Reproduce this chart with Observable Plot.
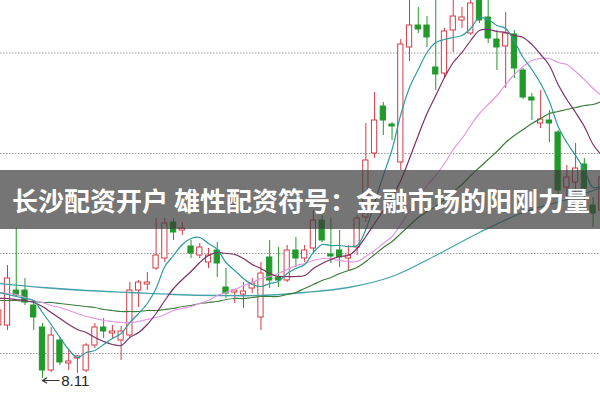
<!DOCTYPE html>
<html>
<head>
<meta charset="utf-8">
<script src="https://cdn.jsdelivr.net/npm/d3@7"></script>
<script src="https://cdn.jsdelivr.net/npm/@observablehq/plot@0.6"></script>
<style>
  html, body { margin: 0; padding: 0; background: #fff; }
  #wrap { position: relative; width: 600px; height: 400px; overflow: hidden; }
  #banner {
    position: absolute; left: 0; top: 170px; width: 600px; height: 59px;
    background: rgba(58, 58, 58, 0.70);
    color: #fff; font-family: "Noto Sans CJK SC", "Noto Sans", sans-serif;
    font-weight: 700; font-size: 26px; line-height: 59px;
    padding-left: 12px; box-sizing: border-box; white-space: nowrap;
  }
</style>
</head>
<body>
<div id="wrap"><div id="chart"></div><div id="banner">长沙配资开户 雄性配资符号：金融市场的阳刚力量</div></div>
<script>
// ---- data (prices) ----
const open = [9.17, 9.17, 9.87, 9.87, 9.57, 9.13, 8.27, 8.87, 8.41, 8.51,
  8.27, 8.77, 9.13, 9.01, 8.87, 8.97, 9.87, 9.99, 10.31, 10.51,
  11.23, 11.07, 10.75, 10.57, 10.43, 10.67, 9.93, 9.83, 9.79, 9.91,
  9.33, 10.53, 10.13, 10.07, 10.67, 10.51, 10.71, 11.27, 10.59, 10.67,
  10.51, 10.73, 11.33, 12.61, 13.55, 13.19, 12.43, 14.73, 15.17, 15.17,
  14.33, 14.21, 15.07, 15.27, 15.01, 15.73, 15.33, 14.89, 14.75, 14.99,
  14.27, 13.73, 13.21, 13.27, 13.03, 11.93, 12.03, 12.39, 11.57, 11.47];
const high = [9.57, 10.37, 11.11, 10.11, 9.67, 9.21, 9.13, 8.93, 8.67, 8.57,
  8.81, 9.21, 9.31, 9.17, 9.15, 10.03, 10.07, 10.23, 11.31, 11.31,
  11.31, 11.23, 10.87, 10.81, 10.71, 10.83, 10.31, 9.89, 10.03, 10.11,
  10.43, 10.87, 10.73, 10.77, 10.93, 10.77, 11.47, 11.37, 11.31, 11.07,
  10.77, 11.37, 13.21, 13.83, 13.63, 13.23, 14.89, 15.87, 15.53, 15.35,
  15.87, 15.11, 15.87, 15.53, 15.77, 15.97, 15.87, 15.07, 15.43, 15.07,
  14.31, 13.81, 13.87, 13.47, 13.07, 12.37, 12.81, 12.51, 11.73, 12.17];
const low = [9.11, 9.07, 9.73, 9.57, 9.07, 8.11, 8.23, 8.37, 8.27, 8.21,
  8.23, 8.71, 8.91, 8.91, 8.47, 8.93, 9.53, 9.87, 10.27, 10.43,
  10.87, 10.97, 10.51, 10.51, 10.31, 10.13, 9.71, 9.61, 9.51, 9.81,
  9.07, 9.91, 9.93, 10.03, 10.33, 10.43, 10.63, 10.83, 10.41, 10.33,
  10.27, 10.57, 11.23, 12.51, 12.97, 12.87, 12.27, 14.45, 15.01, 14.73,
  13.87, 14.13, 14.63, 15.11, 14.97, 15.21, 14.81, 14.27, 13.91, 14.11,
  13.69, 13.27, 13.11, 12.83, 11.77, 11.73, 11.83, 11.67, 11.13, 11.17];
const close = [9.47, 10.11, 9.77, 9.63, 9.33, 8.27, 8.97, 8.43, 8.45, 8.55,
  8.77, 9.13, 9.05, 9.05, 9.05, 9.87, 10.03, 10.03, 10.57, 11.21,
  11.03, 11.11, 10.61, 10.73, 10.57, 10.41, 9.81, 9.87, 9.85, 10.01,
  10.21, 10.07, 10.07, 10.67, 10.51, 10.67, 11.27, 10.87, 10.55, 10.53,
  10.57, 11.31, 12.47, 13.27, 13.27, 13.15, 14.79, 15.17, 15.09, 14.93,
  14.19, 15.05, 15.35, 15.33, 15.61, 15.27, 14.91, 14.73, 15.01, 14.31,
  13.73, 13.67, 13.29, 13.21, 11.87, 12.13, 12.31, 11.91, 11.41, 12.13];

const ma5 = [9.83, 9.79, 9.75, 9.71, 9.67, 9.43, 9.19, 8.93, 8.69, 8.53,
  8.63, 8.67, 8.79, 8.91, 9.01, 9.23, 9.41, 9.61, 9.91, 10.35,
  10.57, 10.79, 10.91, 10.93, 10.81, 10.69, 10.43, 10.27, 10.11, 9.99,
  9.95, 10.01, 10.05, 10.21, 10.31, 10.39, 10.63, 10.79, 10.77, 10.77,
  10.75, 10.77, 11.09, 11.63, 12.17, 12.69, 13.39, 13.93, 14.29, 14.63,
  14.83, 14.89, 14.93, 14.97, 15.11, 15.33, 15.29, 15.17, 15.11, 14.85,
  14.53, 14.29, 14.01, 13.65, 13.15, 12.83, 12.57, 12.29, 11.93, 11.97];
const ma10 = [9.71, 9.71, 9.69, 9.67, 9.63, 9.55, 9.43, 9.31, 9.19, 9.09,
  9.03, 8.93, 8.85, 8.79, 8.77, 8.93, 9.03, 9.19, 9.41, 9.67,
  9.91, 10.09, 10.25, 10.43, 10.57, 10.63, 10.61, 10.59, 10.51, 10.39,
  10.31, 10.21, 10.15, 10.15, 10.15, 10.17, 10.31, 10.41, 10.49, 10.55,
  10.57, 10.71, 10.95, 11.21, 11.47, 11.73, 12.07, 12.51, 12.97, 13.41,
  13.77, 14.13, 14.43, 14.63, 14.87, 15.07, 15.09, 15.05, 15.03, 14.97,
  14.93, 14.79, 14.59, 14.37, 13.99, 13.69, 13.43, 13.15, 12.79, 12.57];
const ma20 = [9.83, 9.81, 9.79, 9.73, 9.67, 9.63, 9.57, 9.53, 9.47, 9.41,
  9.35, 9.31, 9.27, 9.25, 9.23, 9.23, 9.25, 9.29, 9.33, 9.39,
  9.47, 9.51, 9.55, 9.61, 9.67, 9.77, 9.83, 9.89, 9.97, 10.03,
  10.11, 10.15, 10.21, 10.29, 10.37, 10.41, 10.47, 10.51, 10.51, 10.47,
  10.45, 10.45, 10.55, 10.67, 10.81, 10.95, 11.19, 11.47, 11.73, 11.97,
  12.17, 12.41, 12.69, 12.91, 13.17, 13.41, 13.59, 13.77, 13.99, 14.19,
  14.35, 14.47, 14.51, 14.51, 14.43, 14.39, 14.25, 14.09, 13.91, 13.77];
const ma30 = [9.67, 9.67, 9.67, 9.65, 9.65, 9.63, 9.63, 9.61, 9.59, 9.57,
  9.55, 9.53, 9.49, 9.47, 9.45, 9.45, 9.45, 9.47, 9.47, 9.49,
  9.51, 9.55, 9.57, 9.61, 9.63, 9.65, 9.69, 9.71, 9.71, 9.73,
  9.75, 9.75, 9.75, 9.79, 9.83, 9.91, 9.99, 10.07, 10.13, 10.21,
  10.27, 10.33, 10.45, 10.59, 10.73, 10.85, 11.01, 11.17, 11.33, 11.45,
  11.55, 11.69, 11.85, 11.99, 12.17, 12.33, 12.49, 12.65, 12.83, 12.97,
  13.09, 13.21, 13.31, 13.41, 13.45, 13.49, 13.53, 13.57, 13.59, 13.65];
const ma60Idx = [0, 5, 10, 15, 20, 25, 30, 35, 40, 45, 50, 55, 60, 65, 69];
const ma60 = [10.01, 9.93, 9.87, 9.83, 9.79, 9.77, 9.77, 9.83, 9.93, 10.15, 10.57, 11.03, 11.43, 11.69, 11.93];
const gridPrices = [8.61, 10.61, 12.61, 14.62];

// ---- build ----
const RED = "#d23c46", GREEN = "#22992b";
const candles = open.map((o, i) => ({i, open: o, high: high[i], low: low[i], close: close[i], up: close[i] >= o}));
const lowIdx = d3.minIndex(low);
const lowPt = [{i: lowIdx, v: low[lowIdx]}];
const maLine = (arr, color, w = 1.2) =>
  Plot.line(arr, {x: (d, i) => i, y: d => d, stroke: color, strokeWidth: w, curve: "catmull-rom", clip: true});

const chart = Plot.plot({
  width: 600, height: 400, margin: 0,
  style: {background: "#fff", overflow: "hidden"},
  x: {type: "linear", domain: [0.199, 68.85], axis: null},
  y: {domain: [7.67, 15.67], axis: null},
  marks: [
    Plot.ruleY(gridPrices, {stroke: "#9a9a9a", strokeDasharray: "1.5,1.5"}),
    Plot.ruleX(candles, {x: "i", y1: "low", y2: "high", stroke: d => d.up ? RED : GREEN, strokeWidth: 1, clip: true}),
    Plot.rect(candles, {x1: d => d.i - 0.3, x2: d => d.i + 0.3, y1: "open", y2: "close",
      fill: d => d.up ? "#fff" : GREEN, stroke: d => d.up ? RED : GREEN, strokeWidth: 1, clip: true}),
    Plot.line(ma60, {x: (d, i) => ma60Idx[i], y: d => d, stroke: "#46a3ab", strokeWidth: 1.3, curve: "catmull-rom", clip: true}),
    maLine(ma30, "#3d7d3a"),
    maLine(ma20, "#e596e6"),
    maLine(ma10, "#7d2f68"),
    maLine(ma5, "#2a9c9e"),
    Plot.arrow(lowPt, {x1: d => d.i + 1.9, x2: d => d.i, y1: "v", y2: "v", dy: 2, stroke: "#333", strokeWidth: 1.2, headLength: 6}),
    Plot.text(lowPt, {x: d => d.i + 2.15, y: "v", dy: 3, text: d => d.v.toFixed(2), textAnchor: "start",
      fontSize: 15, fontFamily: "Liberation Sans, Arial, sans-serif", fill: "#222"})
  ]
});
document.getElementById("chart").appendChild(chart);
</script>
</body>
</html>
